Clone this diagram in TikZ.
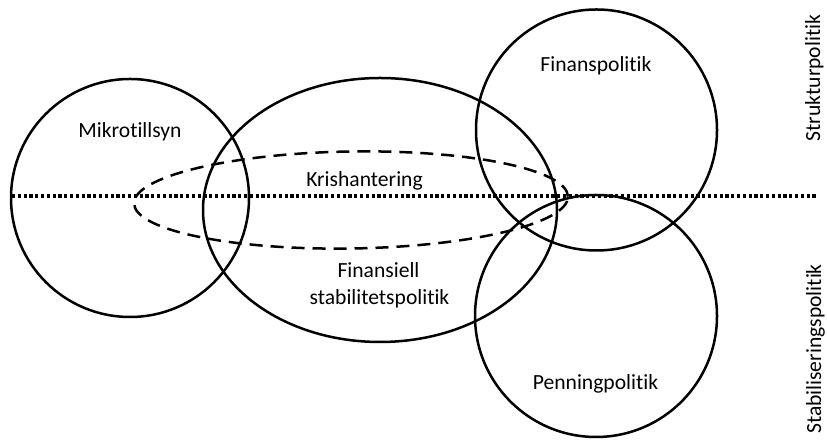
\documentclass[tikz,border=0pt]{standalone}
\usepackage{fontspec}
\setmainfont{Carlito}[Ligatures={NoCommon}]
\usetikzlibrary{shapes.geometric}
\tikzset{
  ring/.style={draw=black, line width=2.5pt, circle, inner sep=0pt, minimum size=#1},
  oval/.style={draw=black, line width=2.5pt, ellipse, inner sep=0pt},
  crisis/.style={draw=black, line width=2.5pt, ellipse, inner sep=0pt, dash pattern=on 13pt off 8pt},
  axisline/.style={draw=black, line width=3.2pt, dash pattern=on 3.2pt off 2.6pt},
  lbl/.style={anchor=base, inner sep=0pt, font=\fontsize{21.6}{26}\selectfont},
}
\begin{document}
\begin{tikzpicture}[x=1pt,y=1pt]
\useasboundingbox (0,0) rectangle (827,443);
\fill[white] (0,0) rectangle (827,443);

% axis
\coordinate (axL) at (12,247);
\coordinate (axR) at (817,247);
\draw[axisline] (axL) -- (axR);

% shapes
\node[ring=238pt] (mikro) at (130,245) {};
\node[oval, minimum width=354pt, minimum height=264pt] (finstab) at (380,233) {};
\node[crisis, minimum width=434pt, minimum height=97pt, rotate=0.9] (kris) at (351,243) {};
\node[ring=241pt] (finans) at (596.5,313) {};
\node[ring=242pt] (penning) at (596,127) {};

% labels
\node[lbl] (tMikro) at (130,305) {Mikrotillsyn};
\node[lbl] (tKris) at (364.5,256) {Krishantering};
\node[lbl] (tFin1) at (378.5,165) {Finansiell};
\node[lbl] (tFin2) at (379.5,138) {stabilitetspolitik};
\node[lbl] (tFinans) at (596,371) {Finanspolitik};
\node[lbl] (tPenning) at (595.5,53) {Penningpolitik};
\node[lbl, rotate=90] (tStruktur) at (820,365) {Strukturpolitik};
\node[lbl, rotate=90] (tStab) at (821,94) {Stabiliseringspolitik};
\end{tikzpicture}
\end{document}
